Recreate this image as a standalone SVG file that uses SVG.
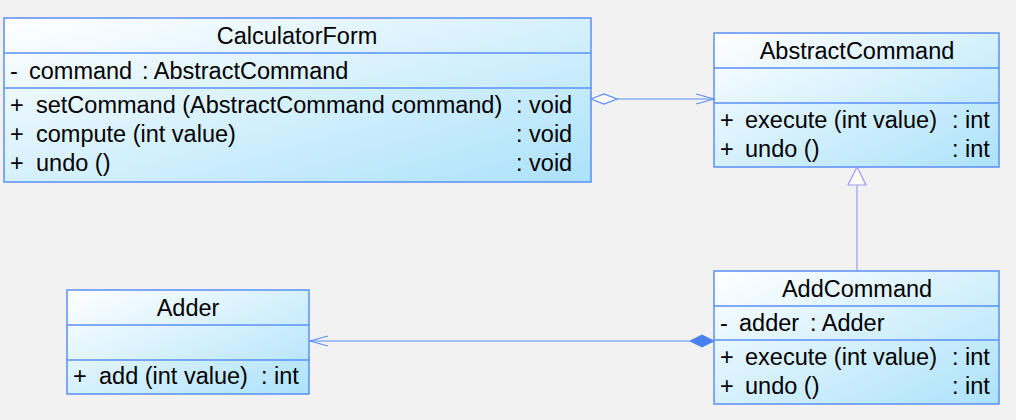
<svg xmlns="http://www.w3.org/2000/svg" width="1016" height="420" viewBox="0 0 1016 420">
<defs>
<linearGradient id="fill" x1="0" y1="0" x2="1" y2="1">
<stop offset="0" stop-color="#ffffff"/>
<stop offset="1" stop-color="#ace2fb"/>
</linearGradient>
<marker id="openArrow" markerWidth="20" markerHeight="12" refX="18" refY="6" orient="auto" markerUnits="userSpaceOnUse">
<path d="M0,1 L18,6 L0,11" fill="none" stroke="#5a8cf5" stroke-width="1.2"/>
</marker>
</defs>
<style>
.box{fill:url(#fill);stroke:#5a8ff5;stroke-width:1.5}
.sep{stroke:#5a8ff5;stroke-width:1.5}
text{font-family:"Liberation Sans",Arial,sans-serif;font-size:23.5px;fill:#000}
.t{text-anchor:middle}
.conn{stroke:#5a8cf5;stroke-width:1.2;fill:none}
.gen{stroke:#9a9af5;stroke-width:1.2}
</style>
<rect width="1016" height="420" fill="#f2f2f2"/>

<g id="CalculatorForm">
<rect class="box" x="4" y="18" width="587" height="164"/>
<line class="sep" x1="4" y1="53" x2="591" y2="53"/>
<line class="sep" x1="4" y1="88" x2="591" y2="88"/>
<text class="t" x="297" y="44">CalculatorForm</text>
<text x="10" y="79">-</text><text x="29" y="79">command</text><text x="142" y="79">: AbstractCommand</text>
<text x="10" y="113">+</text><text x="36" y="113">setCommand (AbstractCommand command)</text><text x="516" y="113">: void</text>
<text x="10" y="142">+</text><text x="36" y="142">compute (int value)</text><text x="516" y="142">: void</text>
<text x="10" y="171">+</text><text x="36" y="171">undo ()</text><text x="516" y="171">: void</text>
</g>

<g id="AbstractCommand">
<rect class="box" x="714" y="33" width="285" height="134"/>
<line class="sep" x1="714" y1="68" x2="999" y2="68"/>
<line class="sep" x1="714" y1="103" x2="999" y2="103"/>
<text class="t" x="857" y="59">AbstractCommand</text>
<text x="720" y="128">+</text><text x="745" y="128">execute (int value)</text><text x="952" y="128">: int</text>
<text x="720" y="157">+</text><text x="745" y="157">undo ()</text><text x="952" y="157">: int</text>
</g>

<g id="AddCommand">
<rect class="box" x="714" y="271" width="285" height="133"/>
<line class="sep" x1="714" y1="306" x2="999" y2="306"/>
<line class="sep" x1="714" y1="340" x2="999" y2="340"/>
<text class="t" x="857" y="297">AddCommand</text>
<text x="720" y="331">-</text><text x="739" y="331">adder</text><text x="810" y="331">: Adder</text>
<text x="720" y="365">+</text><text x="745" y="365">execute (int value)</text><text x="952" y="365">: int</text>
<text x="720" y="394">+</text><text x="745" y="394">undo ()</text><text x="952" y="394">: int</text>
</g>

<g id="Adder">
<rect class="box" x="67" y="290" width="242" height="104"/>
<line class="sep" x1="67" y1="325" x2="309" y2="325"/>
<line class="sep" x1="67" y1="360" x2="309" y2="360"/>
<text class="t" x="188" y="316">Adder</text>
<text x="73" y="384">+</text><text x="99" y="384">add (int value)</text><text x="261" y="384">: int</text>
</g>

<g id="connectors">
<line class="conn" x1="617" y1="99" x2="714" y2="99" marker-end="url(#openArrow)"/>
<path d="M591,99 L604,94 L617,99 L604,104 Z" fill="#ffffff" stroke="#5a8cf5" stroke-width="1.2"/>
<line class="gen" x1="857" y1="271" x2="857" y2="185"/>
<path d="M857,167 L866,185 L848,185 Z" fill="#ffffff" stroke="#9a9af5" stroke-width="1.2"/>
<line class="conn" x1="690" y1="341" x2="310" y2="341" marker-end="url(#openArrow)"/>
<path d="M714,341 L702,335 L690,341 L702,347 Z" fill="#4a80f0" stroke="#4a80f0" stroke-width="1"/>
</g>
</svg>
